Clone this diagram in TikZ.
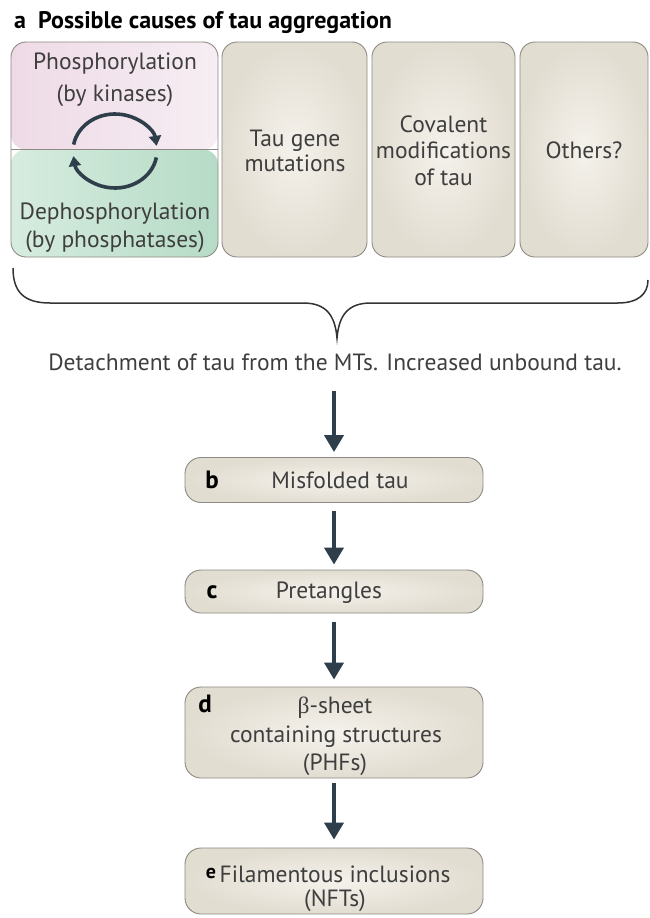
\documentclass[tikz,border=0pt]{standalone}
\usepackage{fontspec}
\setmainfont{PT Sans}
\newfontfamily\betafont{Liberation Serif}
\usetikzlibrary{arrows.meta}
\definecolor{txt}{HTML}{3E3E3E}
\definecolor{edge}{HTML}{8E8983}
\definecolor{beige}{HTML}{E2DDD1}
\definecolor{beigec}{HTML}{F5F2EC}
\definecolor{slate}{HTML}{2E3F4B}
\definecolor{pinkL}{HTML}{EEDAE6}
\definecolor{pinkR}{HTML}{F6EEF3}
\definecolor{greenL}{HTML}{D6ECDF}
\definecolor{greenR}{HTML}{B6DBC6}
\begin{document}
\begin{tikzpicture}[x=1pt,y=-1pt,
  t/.style={text=txt, font=\fontsize{23.5}{28}\selectfont, inner sep=0pt, anchor=base},
  lab/.style={text=black, font=\bfseries\fontsize{25}{28}\selectfont, inner sep=0pt, anchor=base},
  cause/.style={draw=edge, line width=0.9pt, rounded corners=15pt, inner color=beigec, outer color=beige, minimum height=215pt, inner sep=0pt},
  stepbox/.style={draw=edge, line width=0.9pt, rounded corners=16pt, inner color=beigec, outer color=beige, minimum width=298pt, inner sep=0pt},
  flow/.style={draw=slate, line width=4pt, -{Triangle[width=19pt,length=17pt]}},
  cyc/.style={draw=slate, line width=3.6pt, -{Triangle[width=12pt,length=10pt]}}
]
\useasboundingbox (0,0) rectangle (650,918);
% title
\node[lab, anchor=base west, font=\bfseries\fontsize{24}{28}\selectfont] (title) at (14,28) {a\ \ Possible causes of tau aggregation};
% cause boxes
\node[draw=edge, line width=0.9pt, rounded corners=15pt, minimum width=207pt, minimum height=215pt, inner sep=0pt,
  path picture={
    \shade[left color=pinkL, right color=pinkR] (path picture bounding box.north west) rectangle ([yshift=-107.5pt]path picture bounding box.north east);
    \shade[left color=greenL, right color=greenR] ([yshift=-107.5pt]path picture bounding box.north west) rectangle (path picture bounding box.south east);
    \draw[edge, line width=0.9pt] ([yshift=-107.5pt]path picture bounding box.north west) -- ([yshift=-107.5pt]path picture bounding box.north east);
  }] (b1) at (114.5,149.5) {};
\node[cause, minimum width=145pt] (b2) at (294.5,149.5) {};
\node[cause, minimum width=143pt] (b3) at (443.5,149.5) {};
\node[cause, minimum width=128pt] (b4) at (584,149.5) {};
% texts in box 1
\node[t] (p1) at (115,69) {Phosphorylation};
\node[t] (p2) at (115,101) {(by kinases)};
\node[t] (q1) at (115,219) {Dephosphorylation};
\node[t] (q2) at (115,247) {(by phosphatases)};
% cycle arrows
\coordinate (cc) at (115,151);
\draw[cyc] ([shift={(170:42pt and 37pt)}]cc) arc[start angle=170, end angle=8, x radius=42pt, y radius=37pt];
\draw[cyc] ([shift={(-10:42pt and 37pt)}]cc) arc[start angle=-10, end angle=-172, x radius=42pt, y radius=37pt];
% other boxes texts
\node[t] (g1) at (295,146) {Tau gene};
\node[t] (g2) at (295,171) {mutations};
\node[t] (c1) at (443.5,132) {Covalent};
\node[t] (c2) at (443.5,158) {modifications};
\node[t] (c3) at (443.5,185) {of tau};
\node[t] (o1) at (584,158) {Others?};
% brace
\draw[line width=1.5pt, draw=black!80] (13,268) .. controls (13,292) and (24,303) .. (50,303) -- (303,303)
  .. controls (326,303) and (335,315) .. (337,338)
  .. controls (339,315) and (348,303) .. (371,303) -- (618,303)
  .. controls (638,303) and (648,294) .. (648,280);
% detachment
\node[t] (det) at (335,370) {Detachment of tau from the MTs. Increased unbound tau.};
% flow boxes
\node[stepbox, minimum height=45pt] (bb) at (334,480) {};
\node[stepbox, minimum height=43pt] (bc) at (334,591.5) {};
\node[stepbox, minimum height=91pt] (bd) at (334,732.5) {};
\node[stepbox, minimum height=66pt] (be) at (334,881) {};
\node[lab] (lb) at (212,488) {b};
\node[t] (tb) at (340,488) {Misfolded tau};
\node[lab] (lc) at (212,598) {c};
\node[t] (tc) at (329,598) {Pretangles};
\node[lab] (ld) at (205,712) {d};
\node[t] (td1) at (335,713) {{\betafont β}-sheet};
\node[t] (td2) at (336,742) {containing structures};
\node[t] (td3) at (335,770) {(PHFs)};
\node[lab, font=\bfseries\fontsize{20}{24}\selectfont] (le) at (211,878) {e};
\node[t] (te1) at (335,882) {Filamentous inclusions};
\node[t] (te2) at (335,906) {(NFTs)};
% flow arrows
\draw[flow, shorten <=21pt, shorten >=5pt] (det.south -| bb.north) -- (bb.north);
\draw[flow, shorten <=8pt, shorten >=5pt] (bb.south) -- (bc.north);
\draw[flow, shorten <=9pt, shorten >=7pt] (bc.south) -- (bd.north);
\draw[flow, shorten <=5pt, shorten >=8pt] (bd.south) -- (be.north);
\end{tikzpicture}
\end{document}
